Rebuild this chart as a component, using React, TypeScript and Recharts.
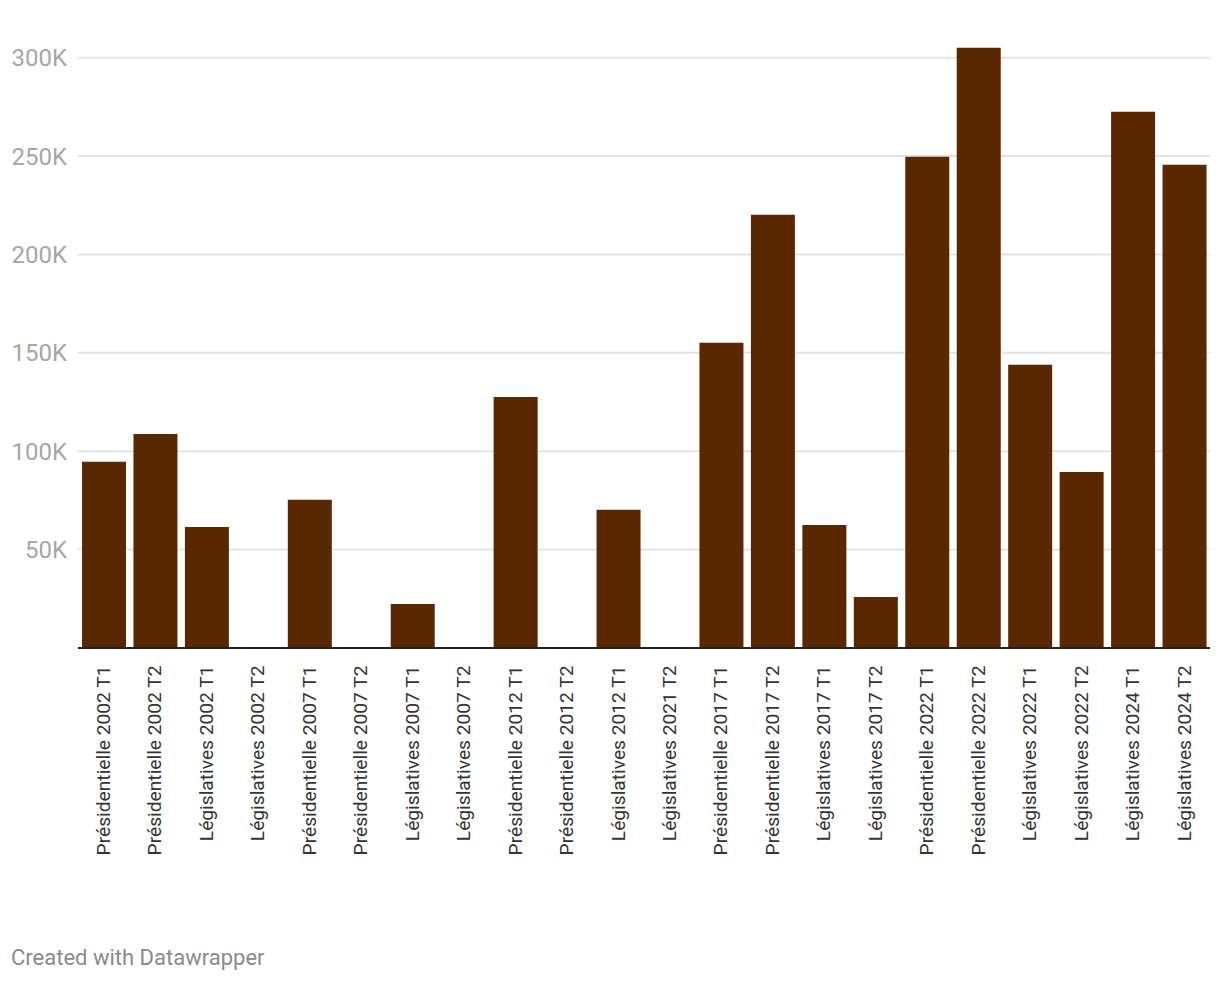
import { BarChart, Bar, XAxis, YAxis, CartesianGrid, ReferenceLine } from "recharts";

const categories = [
  "Présidentielle 2002 T1",
  "Présidentielle 2002 T2",
  "Législatives 2002 T1",
  "Législatives 2002 T2",
  "Présidentielle 2007 T1",
  "Présidentielle 2007 T2",
  "Législatives 2007 T1",
  "Législatives 2007 T2",
  "Présidentielle 2012 T1",
  "Présidentielle 2012 T2",
  "Législatives 2012 T1",
  "Législatives 2021 T2",
  "Présidentielle 2017 T1",
  "Présidentielle 2017 T2",
  "Législatives 2017 T1",
  "Législatives 2017 T2",
  "Présidentielle 2022 T1",
  "Présidentielle 2022 T2",
  "Législatives 2022 T1",
  "Législatives 2022 T2",
  "Législatives 2024 T1",
  "Législatives 2024 T2",
];

const values = [
  94600, 108800, 61500, 0, 75300, 0, 22400, 0, 127600, 0, 70200, 0,
  155100, 220200, 62500, 25900, 249700, 305100, 143900, 89500, 272500, 245600,
];

const yTicks = [50000, 100000, 150000, 200000, 250000, 300000];

const data = categories.map((name, i) => ({ name, value: values[i] }));

const FONT = "Roboto, 'Noto Sans', sans-serif";

function XTick(props: any) {
  const { x, y, payload } = props;
  return (
    <g transform={`translate(${x - 0.5},${y + 17.5})`}>
      <text
        transform="rotate(-90)"
        textAnchor="end"
        dy="0.35em"
        fontSize={19.2}
        fontFamily={FONT}
        fill="#333"
      >
        {payload.value}
      </text>
    </g>
  );
}

export default function App() {
  return (
    <div
      style={{
        position: "absolute",
        left: 0,
        top: 0,
        width: 1220,
        height: 982,
        background: "#fff",
        fontFamily: FONT,
      }}
    >
      <BarChart
        width={1220}
        height={900}
        data={data}
        margin={{ top: 38, right: 10, left: 0, bottom: 0 }}
      >
        <CartesianGrid
          vertical={false}
          stroke="#e3e3e3"
          strokeWidth={2}
          horizontalValues={yTicks}
        />
        <XAxis
          dataKey="name"
          interval={0}
          height={252}
          tickLine={false}
          axisLine={false}
          tickSize={0}
          tickMargin={0}
          tick={<XTick />}
        />
        <YAxis
          width={78}
          domain={[0, 310000]}
          ticks={yTicks}
          axisLine={false}
          tickLine={false}
          tickSize={0}
          tickMargin={11}
          tickFormatter={(v: number) => `${v / 1000}K`}
          tick={{ fontSize: 24, fill: "#a6a6a6", fontFamily: FONT }}
        />
        <Bar dataKey="value" fill="#592800" barSize={44} isAnimationActive={false} />
        <ReferenceLine y={0} stroke="#222" strokeWidth={2} />
      </BarChart>
      <div
        style={{
          position: "absolute",
          left: 11,
          top: 944,
          fontSize: 22,
          color: "#8a8a8a",
          lineHeight: "28px",
        }}
      >
        Created with Datawrapper
      </div>
    </div>
  );
}
